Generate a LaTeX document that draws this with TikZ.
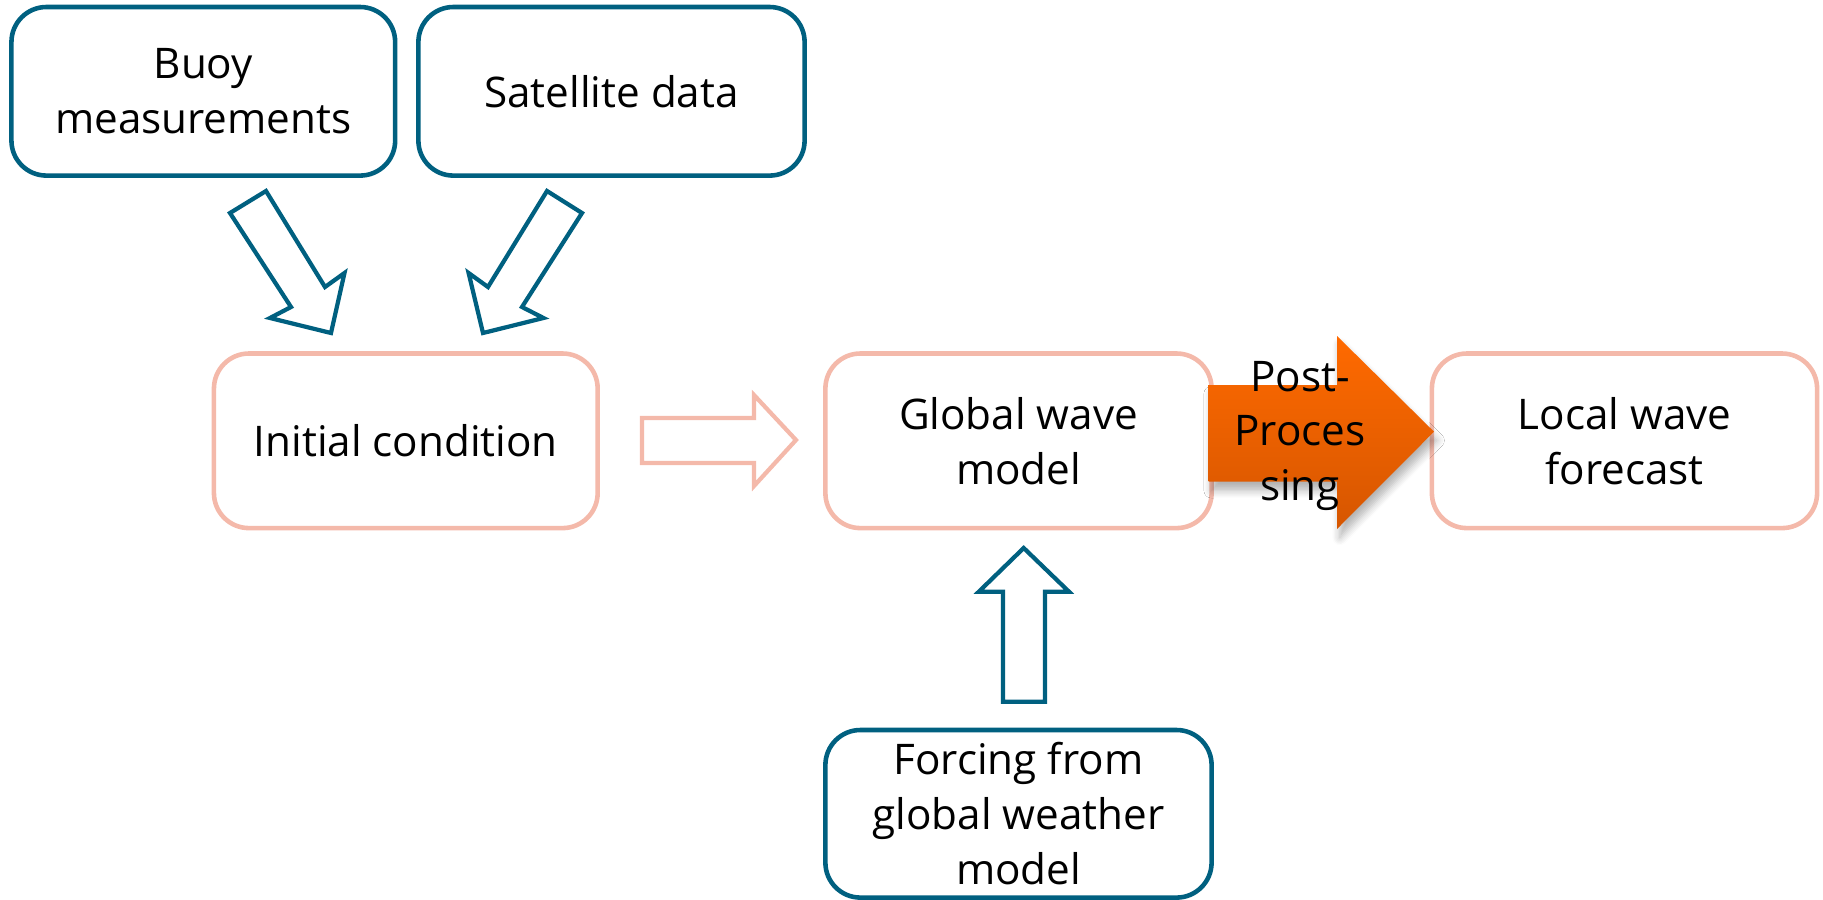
\documentclass[tikz,border=0pt]{standalone}
\usepackage{fontspec}
\setmainfont{Open Sans}
\usetikzlibrary{shadows.blur}
\definecolor{teal}{RGB}{0,96,128}
\definecolor{pinkb}{RGB}{244,185,170}
\definecolor{orangeT}{RGB}{255,106,0}
\definecolor{orangeB}{RGB}{214,86,0}
\tikzset{
  txt/.style={font=\fontsize{12pt}{15.6pt}\selectfont, align=center, text=black},
  bluebox/.style={txt, draw=teal, line width=1.3pt, rounded corners=0.35cm, inner sep=0pt, fill=white},
  pinkbox/.style={txt, draw=pinkb, line width=1.3pt, rounded corners=0.35cm, inner sep=0pt, fill=white},
  bluearrow/.style={draw=teal, line width=1.2pt, fill=white, line join=miter},
  pinkarrow/.style={draw=pinkb, line width=1.2pt, fill=white, line join=miter},
}
\begin{document}
\begin{tikzpicture}[x=0.01cm,y=-0.01cm]
\useasboundingbox (0,0) rectangle (1823,900);
% boxes
\node[bluebox, minimum width=3.835cm, minimum height=1.685cm] (buoy) at (203.3,91.3) {Buoy\\measurements};
\node[bluebox, minimum width=3.86cm, minimum height=1.685cm] (sat) at (611.5,91.3) {Satellite data};
\node[pinkbox, minimum width=3.835cm, minimum height=1.745cm] (init) at (405.8,440.8) {Initial condition};
\node[pinkbox, minimum width=3.86cm, minimum height=1.745cm] (glob) at (1018.5,440.8) {Global wave\\model};
\node[pinkbox, minimum width=3.85cm, minimum height=1.745cm] (local) at (1624.5,440.8) {Local wave\\forecast};
\node[bluebox, minimum width=3.86cm, minimum height=1.675cm] (force) at (1018.5,813.8) {Forcing from\\global weather\\model};
% diagonal arrows
\draw[bluearrow] (230,213) -- (266,191) -- (325,287) -- (344.5,273) -- (331,333) -- (270,318) -- (291,307) -- cycle;
\draw[bluearrow] (582,213) -- (547,191) -- (488,287) -- (468.6,273) -- (483,333) -- (543.5,318) -- (522,307) -- cycle;
% horizontal pink arrow
\draw[pinkarrow] (642,418) -- (754,418) -- (754,395) -- (796,440) -- (754,486) -- (754,463) -- (642,463) -- cycle;
% vertical arrow
\draw[bluearrow] (1003,701.7) -- (1003,591.7) -- (978.8,591.7) -- (1023.7,548) -- (1069,591.7) -- (1045,591.7) -- (1045,701.7) -- cycle;
% orange arrow
\path[top color=orangeT, bottom color=orangeB, blur shadow={shadow xshift=0.8pt, shadow yshift=-2.5pt, shadow blur steps=6, shadow opacity=30}]
  (1208.6,385) -- (1337,385) -- (1337,336) -- (1434,431.7) -- (1337,529) -- (1337,481.7) -- (1208.6,481.7) -- cycle;
\node[txt, inner sep=0pt] (post) at (1300,436) {Post-\\Proces\\sing};
\end{tikzpicture}
\end{document}
